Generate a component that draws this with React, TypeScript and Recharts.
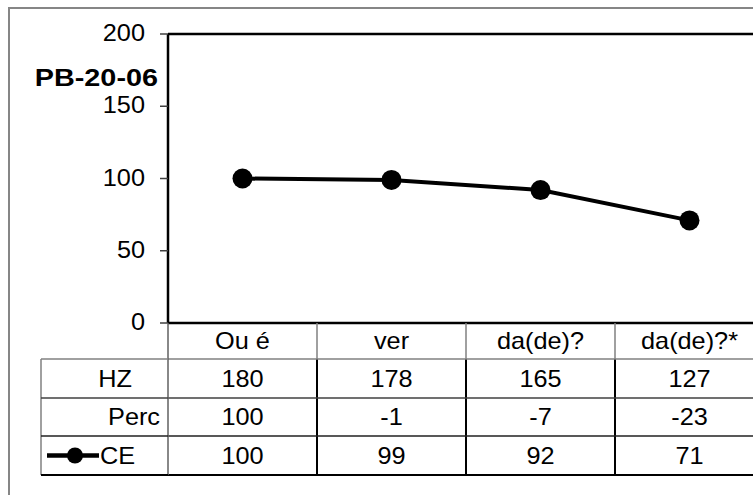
import React from "react";
import { LineChart, Line, XAxis, YAxis, ReferenceLine } from "recharts";

// values
const categories = ["Ou é", "ver", "da(de)?", "da(de)?*"];
const hzValues = [180, 178, 165, 127];
const percValues = [100, -1, -7, -23];
const ceValues = [100, 99, 92, 71];
const yTicks = [0, 50, 100, 150, 200];
const chartLabel = "PB-20-06";

const rowNames = ["HZ", "Perc", "CE"];
const rowValues = [hzValues, percValues, ceValues];

const data = categories.map((cat, i) => ({
  cat,
  HZ: hzValues[i],
  Perc: percValues[i],
  CE: ceValues[i],
}));

// layout
const CHART_W = 800;
const CHART_H = 486;
const PLOT_LEFT = 158;
const PLOT_TOP = 25;
const PLOT_BOTTOM = 314;
const PLOT_RIGHT = 754;
const BAND = (PLOT_RIGHT - PLOT_LEFT) / categories.length;
const ROW_EDGES = [0, 36, 75, 113, 152];
const LABEL_COL_LEFT = 31;
const FONT = "'Liberation Sans', Arial, sans-serif";
const FS = 23;
const SX = 1.1;

const StretchText = ({ x, y, anchor = "middle", children, bold = false, size = FS, sx = SX }: any) => (
  <text
    transform={`translate(${x} ${y}) scale(${sx} 1)`}
    textAnchor={anchor}
    dy="0.355em"
    fontFamily={FONT}
    fontSize={size}
    fontWeight={bold ? "bold" : "normal"}
    fill="#000"
  >
    {children}
  </text>
);

const YTick = (props: any) => {
  const { x, y, payload } = props;
  return (
    <StretchText x={x} y={y - 1} anchor="end">
      {payload.value}
    </StretchText>
  );
};

// each x tick draws one column of the data table (and the row labels for the first one)
const TableColumn = (props: any) => {
  const { x, y, payload, index } = props;
  const half = BAND / 2;
  const left = x - half;
  const right = x + half;
  const mid = (a: number, b: number) => y + (ROW_EDGES[a] + ROW_EDGES[b]) / 2;

  return (
    <g>
      <StretchText x={x} y={mid(0, 1)}>{payload.value}</StretchText>
      {rowValues.map((vals, r) => (
        <StretchText key={r} x={x} y={mid(r + 1, r + 2)}>
          {vals[index]}
        </StretchText>
      ))}
      <line x1={right} x2={right} y1={y} y2={y + ROW_EDGES[1]} stroke="#808080" strokeWidth={1.5} />
      <line x1={right} x2={right} y1={y + ROW_EDGES[1]} y2={y + ROW_EDGES[4]} stroke="#000" strokeWidth={2} />
      <line x1={left} x2={right} y1={y + ROW_EDGES[1]} y2={y + ROW_EDGES[1]} stroke="#808080" strokeWidth={1.5} />
      <line x1={left} x2={right} y1={y + ROW_EDGES[2]} y2={y + ROW_EDGES[2]} stroke="#404040" strokeWidth={1.5} />
      <line x1={left} x2={right} y1={y + ROW_EDGES[3]} y2={y + ROW_EDGES[3]} stroke="#202020" strokeWidth={1.5} />
      <line x1={left} x2={right} y1={y + ROW_EDGES[4]} y2={y + ROW_EDGES[4]} stroke="#000" strokeWidth={2} />
      {index === 0 && (
        <g>
          <line x1={left} x2={left} y1={y} y2={y + ROW_EDGES[4]} stroke="#606060" strokeWidth={1.5} />
          <line x1={LABEL_COL_LEFT} x2={LABEL_COL_LEFT} y1={y + ROW_EDGES[1]} y2={y + ROW_EDGES[4]} stroke="#808080" strokeWidth={1.5} />
          <line x1={LABEL_COL_LEFT} x2={left} y1={y + ROW_EDGES[1]} y2={y + ROW_EDGES[1]} stroke="#808080" strokeWidth={1.5} />
          <line x1={LABEL_COL_LEFT} x2={left} y1={y + ROW_EDGES[2]} y2={y + ROW_EDGES[2]} stroke="#404040" strokeWidth={1.5} />
          <line x1={LABEL_COL_LEFT} x2={left} y1={y + ROW_EDGES[3]} y2={y + ROW_EDGES[3]} stroke="#202020" strokeWidth={1.5} />
          <line x1={LABEL_COL_LEFT} x2={left} y1={y + ROW_EDGES[4]} y2={y + ROW_EDGES[4]} stroke="#000" strokeWidth={2} />
          <StretchText x={left - 36} y={mid(1, 2)} anchor="end">{rowNames[0]}</StretchText>
          <StretchText x={left - 8} y={mid(2, 3)} anchor="end">{rowNames[1]}</StretchText>
          <line x1={LABEL_COL_LEFT + 6} x2={LABEL_COL_LEFT + 58} y1={mid(3, 4)} y2={mid(3, 4)} stroke="#000" strokeWidth={4.5} />
          <circle cx={LABEL_COL_LEFT + 34} cy={mid(3, 4)} r={8} fill="#000" />
          <StretchText x={LABEL_COL_LEFT + 59} y={mid(3, 4)} anchor="start">{rowNames[2]}</StretchText>
        </g>
      )}
    </g>
  );
};

const ChartLabel = () => (
  <StretchText x={148} y={68} anchor="end" bold size={24} sx={1.2}>
    {chartLabel}
  </StretchText>
);

export default function App() {
  return (
    <div
      style={{
        position: "absolute",
        left: 8,
        top: 7,
        width: 745,
        height: 488,
        overflow: "hidden",
        borderTop: "2px solid #868686",
        borderLeft: "2px solid #868686",
        boxSizing: "border-box",
        background: "#fff",
      }}
    >
      <LineChart
        width={CHART_W}
        height={CHART_H}
        data={data}
        margin={{ top: PLOT_TOP, right: CHART_W - PLOT_RIGHT, left: 0, bottom: 0 }}
      >
        <XAxis
          dataKey="cat"
          scale="band"
          interval={0}
          height={CHART_H - PLOT_BOTTOM}
          axisLine={{ stroke: "#000", strokeWidth: 2.5 }}
          tickLine={false}
          tickSize={0}
          tickMargin={0}
          tick={<TableColumn />}
        />
        <YAxis
          width={PLOT_LEFT}
          domain={[0, 200]}
          ticks={yTicks}
          axisLine={{ stroke: "#000", strokeWidth: 2.5 }}
          tickLine={{ stroke: "#404040", strokeWidth: 1.5 }}
          tickSize={8}
          tickMargin={15}
          tick={<YTick />}
          label={{ content: () => <ChartLabel /> }}
        />
        <ReferenceLine y={200} stroke="#000" strokeWidth={2.5} />
        <Line
          dataKey="CE"
          stroke="#000"
          strokeWidth={4}
          dot={{ r: 10, fill: "#000", stroke: "#000", strokeWidth: 0 }}
          isAnimationActive={false}
        />
      </LineChart>
    </div>
  );
}
